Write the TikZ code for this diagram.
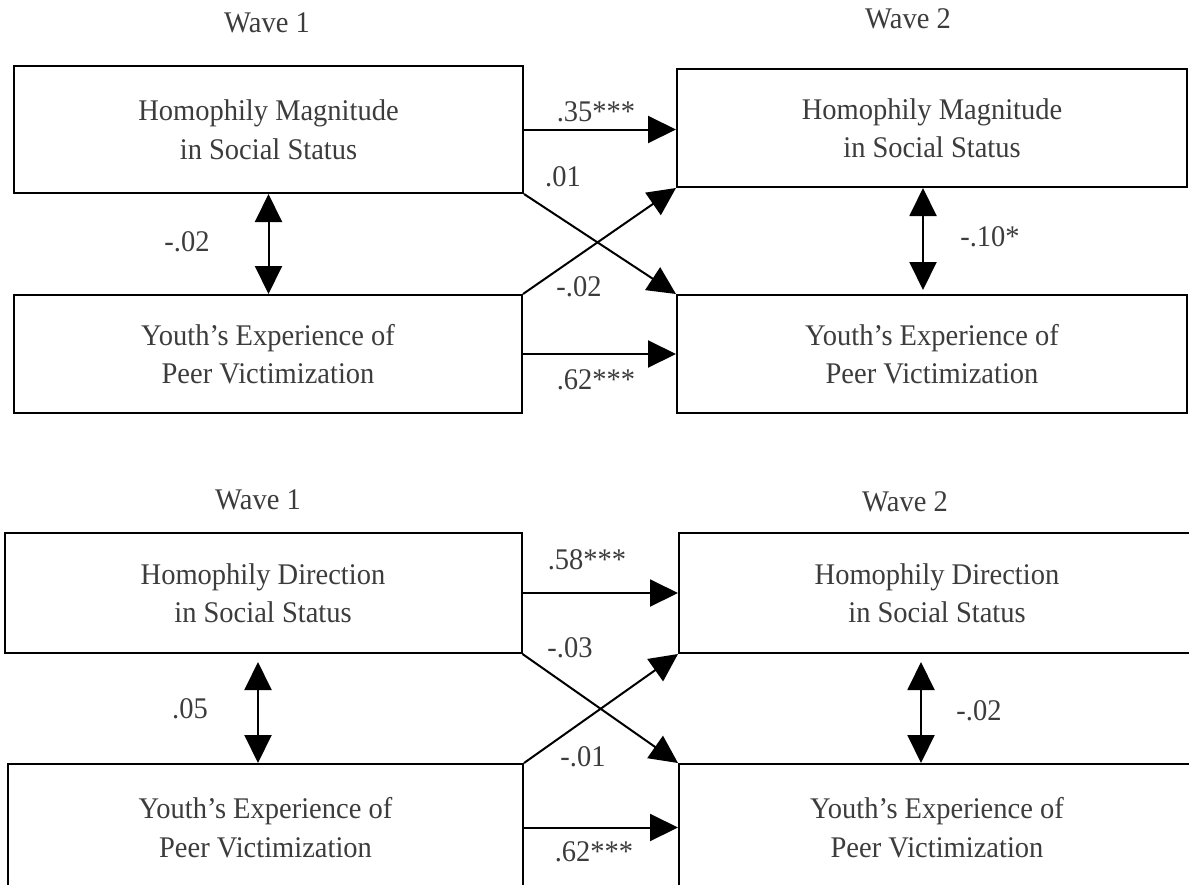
\documentclass[tikz,border=0pt]{standalone}
\usepackage{fontspec}
\setmainfont{Liberation Serif}[FakeStretch=0.95]
\usetikzlibrary{arrows.meta,calc}
\definecolor{txt}{HTML}{3C3C3C}
\begin{document}
\begin{tikzpicture}[x=1pt,y=-1pt,
  every node/.style={font=\fontsize{30}{38.5}\selectfont, text=txt},
  varbox/.style={draw=black, line width=2pt, rectangle, inner sep=0pt, align=center},
  coef/.style={inner sep=0pt},
  effect/.style={line width=2pt, -{Triangle[length=28pt,width=27pt]}},
  covar/.style={line width=2pt, {Triangle[length=28pt,width=27pt]}-{Triangle[length=28pt,width=27pt]}}]
\useasboundingbox (0,0) rectangle (1189,884);
\clip (0,0) rectangle (1189,884);

% ---------- cross-lagged model: homophily magnitude ----------
\node[coef] (wa1) at (267,23) {Wave 1};
\node[coef] (wa2) at (908,19) {Wave 2};

\node[varbox, minimum width=509pt, minimum height=127pt] (m1) at (268.5,129.5)
  {Homophily Magnitude\\in Social Status};
\node[varbox, minimum width=510pt, minimum height=118pt] (m2) at (932,128)
  {Homophily Magnitude\\in Social Status};
\node[varbox, minimum width=508pt, minimum height=118pt] (v1) at (268,354)
  {Youth’s Experience of\\Peer Victimization};
\node[varbox, minimum width=510pt, minimum height=118pt] (v2) at (932,354)
  {Youth’s Experience of\\Peer Victimization};

\draw[effect] (m1.east) -- (m1.east -| m2.west);
\draw[effect] (v1.east) -- (v2.west);
\draw[effect] (m1.south east) -- (v2.north west);
\draw[effect] (v1.north east) -- (m2.south west);
\draw[covar] (m1.south) -- (m1.south |- v1.north);
\draw[covar] ($(m2.south)+(-9,0)$) -- ($(m2.south |- v2.north)+(-9,-4)$);

\node[coef] (a1) at (596,112) {.35***};
\node[coef] (a2) at (563,177) {.01};
\node[coef] (a3) at (187,242) {-.02};
\node[coef] (a4) at (579,287) {-.02};
\node[coef] (a5) at (596,380) {.62***};
\node[coef] (a6) at (990,237) {-.10*};

% ---------- cross-lagged model: homophily direction ----------
\node[coef] (wb1) at (258,500) {Wave 1};
\node[coef] (wb2) at (905,502) {Wave 2};

\node[varbox, minimum width=517pt, minimum height=120pt] (d1) at (263,593)
  {Homophily Direction\\in Social Status};
\node[varbox, minimum width=516pt, minimum height=120pt] (d2) at (937,593)
  {Homophily Direction\\in Social Status};
\node[varbox, minimum width=515pt, minimum height=127pt] (w1) at (265.5,827.5)
  {Youth’s Experience of\\Peer Victimization};
\node[varbox, minimum width=516pt, minimum height=127pt] (w2) at (937,827.5)
  {Youth’s Experience of\\Peer Victimization};

\draw[effect] (d1.east) -- (d1.east -| d2.west);
\draw[effect] (w1.east) -- (w1.east -| w2.west);
\draw[effect] (d1.south east) -- (w2.north west);
\draw[effect] (w1.north east) -- (d2.south west);
\draw[covar] ($(d1.south)+(-5,8)$) -- ($(d1.south |- w1.north)+(-5,0)$);
\draw[covar] ($(d2.south)+(-16,8)$) -- ($(d2.south |- w2.north)+(-16,0)$);

\node[coef] (b1) at (587,560) {.58***};
\node[coef] (b2) at (570,648) {-.03};
\node[coef] (b3) at (190,709) {.05};
\node[coef] (b4) at (583,757) {-.01};
\node[coef] (b5) at (594,852) {.62***};
\node[coef] (b6) at (979,711) {-.02};
\end{tikzpicture}
\end{document}
